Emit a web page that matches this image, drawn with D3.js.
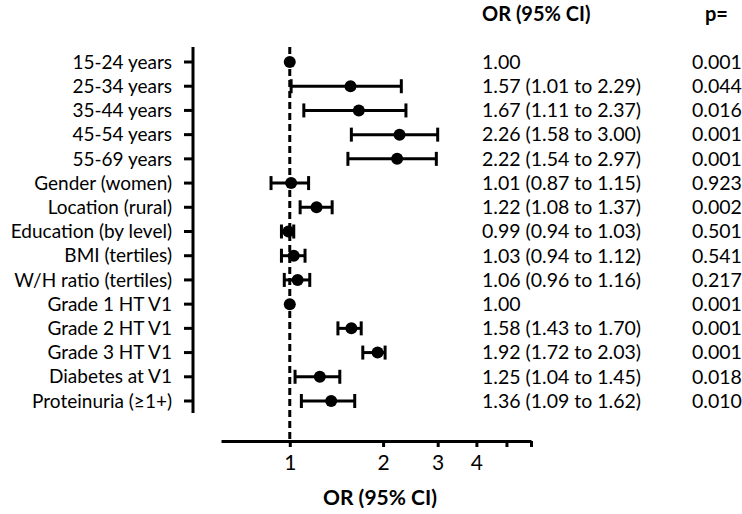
<!DOCTYPE html>
<html>
<head>
<meta charset="utf-8">
<script src="https://cdn.jsdelivr.net/npm/d3@7"></script>
<style>
  body { margin: 0; background: #fff; }
  text { font-family: Lato, "Open Sans", sans-serif; fill: #000; }
</style>
</head>
<body>
<div id="chart"></div>
<script>
// rows of the forest plot
var labels = ["15-24 years", "25-34 years", "35-44 years", "45-54 years", "55-69 years",
  "Gender (women)", "Location (rural)", "Education (by level)", "BMI (tertiles)",
  "W/H ratio (tertiles)", "Grade 1 HT V1", "Grade 2 HT V1", "Grade 3 HT V1",
  "Diabetes at V1", "Proteinuria (\u22651+)"];
var or = [1.00, 1.57, 1.67, 2.26, 2.22, 1.01, 1.22, 0.99, 1.03, 1.06, 1.00, 1.58, 1.92, 1.25, 1.36];
var lower = [null, 1.01, 1.11, 1.58, 1.54, 0.87, 1.08, 0.94, 0.94, 0.96, null, 1.43, 1.72, 1.04, 1.09];
var upper = [null, 2.29, 2.37, 3.00, 2.97, 1.15, 1.37, 1.03, 1.12, 1.16, null, 1.70, 2.03, 1.45, 1.62];
var pvals = ["0.001", "0.044", "0.016", "0.001", "0.001", "0.923", "0.002", "0.501",
  "0.541", "0.217", "0.001", "0.001", "0.001", "0.018", "0.010"];
var xTicks = [1, 2, 3, 4, 5, 6];
var xTickLabels = [1, 2, 3, 4];

var width = 742, height = 514;

var svg = d3.select("#chart").append("svg")
  .attr("width", width)
  .attr("height", height);

var x = d3.scaleLog().domain([0.6, 6]).range([221, 531]);
var y = d3.scalePoint().domain(d3.range(labels.length)).range([62, 401]);

var fmt = d3.format(".2f");

// y axis
var yAxisX = 193;
svg.append("line")
  .attr("x1", yAxisX).attr("x2", yAxisX)
  .attr("y1", 47).attr("y2", 413)
  .attr("stroke", "#000").attr("stroke-width", 3);

svg.selectAll(".ytick")
  .data(labels)
  .enter().append("line")
  .attr("class", "ytick")
  .attr("x1", yAxisX - 9).attr("x2", yAxisX)
  .attr("y1", function(d, i) { return y(i); })
  .attr("y2", function(d, i) { return y(i); })
  .attr("stroke", "#000").attr("stroke-width", 3);

svg.selectAll(".ylabel")
  .data(labels)
  .enter().append("text")
  .attr("class", "ylabel")
  .attr("x", 172)
  .attr("y", function(d, i) { return y(i); })
  .attr("dy", "0.35em")
  .attr("text-anchor", "end")
  .style("font-size", "19px")
  .text(function(d) { return d; });

// x axis
var xAxisY = 441;
var xAxis = svg.append("g")
  .attr("transform", "translate(0," + xAxisY + ")")
  .call(d3.axisBottom(x)
    .tickValues(xTicks)
    .tickSize(6)
    .tickSizeOuter(0)
    .tickFormat(function(d) { return xTickLabels.indexOf(d) >= 0 ? d : ""; }));
xAxis.select(".domain").attr("stroke-width", 3);
xAxis.selectAll(".tick line").attr("stroke-width", 3);
xAxis.selectAll(".tick text")
  .attr("y", 14)
  .style("font-family", "Lato, 'Open Sans', sans-serif")
  .style("font-size", "21px");

svg.append("text")
  .attr("x", 380)
  .attr("y", 505)
  .attr("text-anchor", "middle")
  .style("font-size", "21px")
  .style("font-weight", "bold")
  .text("OR (95% CI)");

// reference line
svg.append("line")
  .attr("x1", x(1)).attr("x2", x(1))
  .attr("y1", 47).attr("y2", xAxisY)
  .attr("stroke", "#000").attr("stroke-width", 3)
  .attr("stroke-dasharray", "7,4");

// error bars
var rows = svg.selectAll(".row")
  .data(or)
  .enter().append("g")
  .attr("class", "row")
  .attr("transform", function(d, i) { return "translate(0," + y(i) + ")"; });

rows.each(function(d, i) {
  if (lower[i] == null) return;
  var g = d3.select(this);
  var lo = x(lower[i]), hi = x(upper[i]);
  g.append("line").attr("x1", lo).attr("x2", hi).attr("y1", 0).attr("y2", 0)
    .attr("stroke", "#000").attr("stroke-width", 3);
  g.append("line").attr("x1", lo).attr("x2", lo).attr("y1", -7).attr("y2", 7)
    .attr("stroke", "#000").attr("stroke-width", 3);
  g.append("line").attr("x1", hi).attr("x2", hi).attr("y1", -7).attr("y2", 7)
    .attr("stroke", "#000").attr("stroke-width", 3);
});

rows.append("circle")
  .attr("cx", function(d) { return x(d); })
  .attr("cy", 0)
  .attr("r", 6)
  .attr("fill", "#000");

// text columns
svg.append("text")
  .attr("x", 482).attr("y", 21)
  .style("font-size", "20px").style("font-weight", "bold")
  .text("OR (95% CI)");
svg.append("text")
  .attr("x", 705).attr("y", 21)
  .style("font-size", "20px").style("font-weight", "bold")
  .text("p=");

svg.selectAll(".ortext")
  .data(or)
  .enter().append("text")
  .attr("class", "ortext")
  .attr("x", 482)
  .attr("y", function(d, i) { return y(i); })
  .attr("dy", "0.35em")
  .style("font-size", "19.5px")
  .text(function(d, i) {
    return lower[i] == null ? fmt(d) : fmt(d) + " (" + fmt(lower[i]) + " to " + fmt(upper[i]) + ")";
  });

svg.selectAll(".ptext")
  .data(pvals)
  .enter().append("text")
  .attr("class", "ptext")
  .attr("x", 692)
  .attr("y", function(d, i) { return y(i); })
  .attr("dy", "0.35em")
  .style("font-size", "19.5px")
  .text(function(d) { return d; });
</script>
</body>
</html>
